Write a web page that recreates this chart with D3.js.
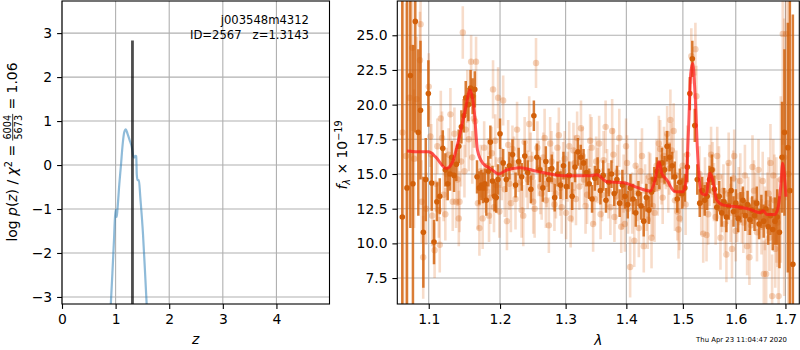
<!DOCTYPE html>
<html><head><meta charset="utf-8">
<script src="https://cdn.jsdelivr.net/npm/d3@7"></script>
<style>body{margin:0;background:#fff}svg{display:block}text{font-family:"DejaVu Sans",sans-serif;white-space:pre}</style>
</head><body><svg id="c" width="800" height="350"></svg>
<script>
// ---------- p(z) panel data ----------
const pzZ = [0.905,0.94,0.97,0.997,1.005,1.02,1.035,1.07,1.10,1.13,1.16,1.19,1.22,1.26,1.30,1.333,1.345,1.375,1.385,1.395,1.41,1.425,1.435,1.46,1.51,1.55,1.585];
const pzLogp = [-3.3,-2.46,-1.7,-1.02,-1.05,-1.18,-1.0,-0.42,0.0,0.45,0.74,0.81,0.72,0.57,0.42,0.19,0.17,0.21,0.2,-0.22,-0.34,-0.35,-0.34,-0.72,-1.55,-2.46,-3.3];
const zBest = 1.3143, zBestTop = 2.83;
const zTicks = [0,1,2,3,4];
const pTicks = [-3,-2,-1,0,1,2,3];
const objName = "j003548m4312";
const objInfo = "ID=2567   z=1.3143";

// ---------- spectrum panel data ----------
const darkWave = [1.0651,1.0712,1.0756,1.0790,1.0821,1.0861,1.0890,1.0928,1.0960,1.0995,1.1040,1.1071,1.1110,1.1149,1.1190,1.1225,1.1258,1.1290,1.1313,1.1345,1.1377,1.1410,1.1447,1.1480,1.1508,1.1545,1.1576,1.1605,1.1636,1.1668,1.1700,1.1730,1.1754,1.1780,1.1801,1.1830,1.1859,1.1890,1.1920,1.1945,1.1970,1.2000,
1.2046,1.2092,1.2138,1.2184,1.2230,1.2276,1.2322,1.2368,1.2414,1.2460,1.2506,1.2552,1.2598,1.2644,1.2690,1.2736,1.2782,1.2828,1.2874,1.2920,1.2966,1.3012,1.3058,1.3104,1.3150,1.3196,1.3242,1.3288,1.3334,1.3380,1.3426,1.3472,1.3518,1.3564,1.3610,1.3656,1.3702,1.3748,1.3794,1.3840,1.3886,1.3932,1.3978,1.4024,1.4070,1.4116,1.4162,1.4208,1.4254,1.4300,1.4346,1.4392,1.4438,1.4484,1.4530,1.4576,1.4622,1.4668,1.4714,1.4760,1.4806,1.4852,1.4898,1.4944,1.4990,1.5036,1.5082,1.5128,1.5174,1.5220,1.5266,1.5312,1.5358,1.5404,1.5450,1.5496,1.5542,1.5588,1.5634,1.5680,1.5726,1.5772,1.5818,1.5864,1.5910,1.5956,1.6002,1.6048,1.6094,1.6140,1.6186,1.6232,1.6278,1.6324,1.6370,1.6416,1.6462,1.6508,1.6554,1.6600,1.6646,1.6692,1.6738,1.6784,1.6830,1.6876,1.6930,1.6980,1.7050,1.7092,1.7155];
const darkFlux = [11.9,14.0,22.1,14.3,26.0,18.0,19.6,10.8,14.6,20.8,14.35,10.1,13.0,13.4,16.85,15.3,14.3,15.0,16.2,14.9,15.7,17.0,18.4,19.2,20.5,20.0,21.2,20.6,21.1,14.8,14.0,14.2,14.0,14.3,13.1,15.2,17.3,14.5,13.4,13.3,14.6,17.9,
15.8,14.6,15.6,16.4,14.2,15.9,14.8,16.3,15.1,13.9,
19.2,16.2,15.3,14.0,15.9,14.6,15.4,13.3,15.0,14.2,
15.6,14.1,14.9,13.4,15.5,16.6,16.2,15.8,15.1,14.3,
13.2,14.7,15.2,13.8,14.9,13.1,14.4,15.0,13.6,14.6,
12.9,14.2,13.4,12.8,14.0,13.2,12.2,13.6,12.7,11.6,
13.3,12.4,13.7,14.6,15.2,14.9,15.8,15.3,17.0,16.2,
15.6,14.8,13.2,14.4,13.6,14.0,15.5,20.8,23.3,18.5,
14.6,12.9,13.8,13.1,13.4,14.6,15.3,13.9,12.6,13.4,
12.2,13.0,11.9,12.7,13.8,12.3,12.9,11.8,12.6,13.1,
12.0,12.8,11.7,12.4,12.0,12.9,11.4,12.3,11.6,12.5,
11.2,12.0,11.0,11.6,11.9,10.8,16.2,18.0,16.9,13.8,
8.5];
const darkErr = [16,14,11,10,8,6,5,4,3,2.4,2,1.6,1.4,1.3,1.3,1.2,1.2,1.2,1.2,1.2,1.2,1.2,1.2,1.2,1.2,1.2,1.3,1.3,1.3,1.2,1.2,1.1,1.1,1.1,1.1,1.1,1.2,1.1,1.1,1.1,1.1,1.1,
1.0,0.9,1.0,1.1,0.9,1.0,1.0,1.1,0.9,1.0,
1.1,1.0,0.9,1.0,1.1,0.9,1.0,1.0,0.9,1.0,
1.0,0.9,1.0,1.0,1.1,1.0,0.9,1.0,1.0,1.1,
1.0,0.9,1.0,1.0,1.1,0.9,1.0,1.0,0.9,1.0,
1.0,1.1,0.9,1.0,1.0,1.1,1.0,0.9,1.0,1.1,
1.0,1.0,1.1,0.9,1.0,1.0,1.1,1.0,1.1,1.0,
1.0,1.1,1.0,1.0,1.1,1.0,1.1,1.2,1.3,1.2,
1.1,1.0,1.0,1.1,1.0,1.0,1.1,1.0,1.0,1.1,
1.0,1.0,1.1,1.0,1.0,1.1,1.0,1.0,1.1,1.0,
1.1,1.0,1.1,1.0,1.1,1.2,1.1,1.2,1.2,1.3,
1.3,1.4,1.5,1.7,2.0,2.6,4.0,6.0,9.0,14.0,
18.0];

const lightWave = [1.0653,1.0698,1.0744,1.0783,1.0805,1.0839,1.0883,1.0891,1.0906,1.0926,1.0965,1.1000,
1.1022,1.1046,1.1079,1.1116,1.1149,1.1163,1.1201,1.1243,1.1295,1.1327,1.1373,1.1411,1.1421,1.1443,1.1467,1.1509,1.1551,1.1584,1.1622,1.1654,1.1702,1.1720,1.1748,1.1790,1.1825,1.1860,1.1898,1.1912,1.1944,1.1972,
1.2008,1.2046,1.2102,1.2137,1.2183,1.2229,1.2275,1.2320,1.2366,1.2412,1.2458,1.2496,1.2539,1.2580,1.2626,1.2671,1.2702,1.2737,1.2778,1.2824,1.2870,1.2915,1.2961,1.3007,1.3057,1.3106,1.3147,1.3184,1.3221,1.3271,1.3320,1.3370,1.3419,1.3469,1.3518,1.3567,1.3617,1.3650,1.3699,1.3760,1.3798,1.3848,1.3913,1.3954,1.3995,1.4030,1.4065,1.4136,1.4189,1.4242,1.4301,1.4348,1.4393,1.4437,1.4490,1.4526,1.4566,1.4614,1.4658,1.4715,1.4756,1.4773,1.4832,1.4880,1.4920,1.4938,1.4968,1.5023,1.5080,1.5155,1.5231,1.5250,1.5307,1.5377,1.5439,1.5496,1.5553,1.5642,1.5704,1.5761,1.5818,1.5862,1.5926,1.5970,1.6028,1.6089,1.6149,1.6223,1.6269,1.6330,1.6390,1.6450,1.6511,
1.6557,1.6605,1.6652,1.6692,1.6726,1.6773,1.6813,1.6859,1.6904,1.6944,1.6974,1.7014,1.7060];
const lightFlux = [18.0,16.3,20.5,24.1,16.1,20.4,23.2,25.8,13.0,9.0,12.5,21.3,
17.7,12.0,9.5,17.0,9.9,19.0,13.5,15.0,19.3,13.0,13.0,11.8,13.0,15.9,25.2,18.2,17.5,23.1,19.0,23.1,11.1,15.2,11.8,14.0,15.6,13.3,21.1,12.6,14.2,20.5,
16.0,20.3,11.6,14.3,16.8,13.2,15.6,12.4,17.3,14.6,16.1,13.0,23.0,15.4,13.6,17.6,14.3,11.3,15.9,12.8,16.9,14.0,15.2,12.2,17.0,13.7,15.8,17.6,14.1,16.3,12.7,15.0,16.9,13.2,14.9,12.1,16.0,18.4,13.8,18.1,11.9,15.1,11.2,14.3,17.0,12.5,8.3,10.2,13.6,15.2,9.8,12.9,14.8,10.4,12.2,15.6,17.2,14.6,16.3,17.9,15.4,18.9,18.1,14.9,11.0,11.8,13.5,14.6,16.4,23.5,24.0,20.6,15.0,10.7,10.6,14.9,15.3,16.3,10.4,13.8,9.2,15.8,9.6,16.3,12.4,14.5,11.5,9.8,9.0,15.5,13.0,15.3,11.2,
7.8,7.8,13.6,15.8,6.2,13.1,12.4,6.2,14.6,25.1,16.2,25.1,15.0];
const lightErr = [14,11,8,6,5,4.5,3.5,3.5,3,3,2.6,2.4,
2.2,2.2,2.0,2.0,2.0,2.0,1.9,1.9,1.9,2.1,1.9,2.0,2.2,1.8,1.9,2.0,2.3,1.9,2.1,1.8,2.0,1.9,2.2,1.8,2.0,1.9,2.1,1.8,2.0,2.2,
2.0,1.8,2.1,1.9,1.7,2.2,1.9,2.0,1.8,2.1,
1.9,2.3,1.8,2.0,1.9,2.1,1.7,2.0,2.2,1.9,
1.8,2.0,2.1,1.9,1.8,2.2,2.0,1.9,1.7,2.1,
2.0,1.8,2.2,1.9,2.0,1.8,2.1,1.9,2.0,2.3,
1.8,2.0,1.9,2.1,2.0,1.8,2.2,1.9,2.0,2.1,
1.9,2.0,1.8,2.2,2.1,1.9,2.0,1.8,2.1,2.0,
1.9,2.2,2.0,1.8,2.1,2.3,2.0,1.9,2.1,2.0,
1.9,2.2,2.0,2.1,1.9,2.2,2.0,2.1,2.3,1.9,
2.0,2.2,2.1,1.9,2.3,2.0,2.2,2.1,2.0,2.3,
2.1,2.2,2.0,
2.4,2.5,2.6,2.8,3.0,3.3,3.8,4.5,6,8,10,12,14];

// second, interleaved set of faint points
const lightWaveB = [1.1035,1.1095,1.1135,1.1180,1.1225,1.1270,1.1350,1.1395,1.1490,1.1530,1.1600,1.1640,1.1680,1.1770,1.1840,1.1880,1.1930,1.1990,
1.2025,1.2070,1.2120,1.2160,1.2205,1.2252,1.2298,1.2345,1.2390,1.2435,1.2480,1.2518,1.2560,1.2605,1.2650,1.2690,1.2757,1.2800,1.2847,1.2893,1.2938,1.2984,1.3032,1.3080,1.3125,1.3165,1.3246,1.3295,1.3345,1.3395,1.3444,1.3494,1.3543,1.3592,1.3675,1.3730,1.3780,1.3823,1.3880,1.3935,1.3975,1.4012,1.4100,1.4160,1.4215,1.4270,1.4325,1.4370,1.4415,1.4460,1.4545,1.4590,1.4635,1.4690,1.4735,1.4800,1.4855,1.4900,1.4995,1.5050,1.5340,1.5410,1.5470,1.5525,1.5580,1.5612,1.5675,1.5735,1.5790,1.5840,1.5898,1.5950,1.6000,1.6058,1.6120,1.6180,1.6245,1.6300,1.6360,1.6420,1.6480,1.6535,1.6580,1.6630,1.6670,1.6750,1.6790,1.6835];
const lightFluxB = [16.4,14.3,12.4,17.6,12.1,16.4,17.9,14.6,15.2,20.6,16.2,18.8,12.9,16.9,12.0,16.5,17.4,12.3,
15.0,13.9,17.1,12.9,15.8,18.2,14.4,12.0,15.2,18.6,14.8,12.5,16.9,14.1,16.2,13.1,17.2,14.5,13.6,17.8,12.6,16.1,14.8,11.8,16.7,13.2,18.3,14.6,13.5,17.4,11.4,15.9,17.2,13.5,14.7,12.6,16.4,13.4,17.6,12.9,11.4,15.8,12.9,15.6,11.1,16.3,13.8,11.7,14.5,12.7,14.0,16.8,13.3,15.9,14.3,16.7,13.1,12.3,15.6,12.8,12.7,14.2,12.1,16.4,13.7,11.9,14.8,12.9,11.4,13.6,12.2,14.7,10.9,13.4,12.0,14.9,12.7,11.3,13.8,10.8,12.6,14.5,11.8,12.9,10.4,14.9,9.6,11.5];
const lightErrB = [2.2,2.0,2.0,1.9,1.9,1.9,1.9,1.9,1.9,1.9,1.9,1.9,1.9,1.9,1.9,1.9,1.9,1.9,
1.9,2.0,1.8,2.1,1.9,2.0,1.8,2.2,1.9,2.0,1.8,2.1,1.9,2.0,1.8,2.0,1.9,2.1,1.8,2.0,1.9,2.0,1.8,2.1,2.0,1.9,2.0,1.8,2.1,1.9,2.0,1.8,2.0,1.9,2.1,2.0,1.9,2.0,2.1,1.9,2.0,2.0,2.2,1.9,2.1,2.0,1.9,2.1,2.0,2.2,2.0,2.1,1.9,2.0,2.1,2.0,2.2,2.1,2.0,2.2,2.1,2.0,2.2,2.0,2.1,2.0,2.2,2.1,2.0,2.2,2.1,2.0,2.2,2.1,2.0,2.2,2.1,2.0,2.2,2.1,2.2,2.1,2.3,2.2,2.4,2.6,2.8,3.2];

const modelWave = [1.0712,1.085,1.1,1.1089,1.1238,1.1316,1.1408,1.1500,1.1570,1.1627,1.1675,1.1752,1.1859,1.1982,1.2099,1.2297,1.2550,1.2965,1.3394,1.3505,1.3671,1.3951,1.4182,1.4412,1.4500,1.4571,1.4619,1.4708,1.4858,1.5000,1.5058,1.5101,1.5145,1.5182,1.5224,1.5275,1.5349,1.5430,1.5505,1.5556,1.5632,1.5759,1.6018,1.6280,1.6480,1.6546,1.6615,1.6784,1.6852,1.6902,1.6943,1.6976,1.7011];
const modelFlux = [16.66,16.6,16.6,16.25,15.4,15.77,17.45,19.6,21.05,19.6,16.7,15.77,15.4,15.0,15.29,15.45,15.2,14.88,14.88,14.95,14.44,14.37,14.04,13.77,14.57,15.89,15.05,14.57,13.72,13.72,14.44,17.93,22.26,22.98,20.82,16.25,13.6,13.49,15.05,14.57,13.13,12.76,12.64,12.45,12.21,12.35,12.09,12.09,12.64,14.08,15.77,15.05,13.36];
const wTicks = [1.1,1.2,1.3,1.4,1.5,1.6,1.7];
const fTicks = [7.5,10.0,12.5,15.0,17.5,20.0,22.5,25.0];
const timeStamp = "Thu Apr 23 11:04:47 2020";

// ---------- drawing ----------
const svg = d3.select('#c');
const L = {x0:62, x1:329.5, y0:1, y1:304};
const R = {x0:397.3, x1:799.3, y0:1, y1:304};
const xz = d3.scaleLinear().domain([0, 4.99]).range([L.x0, L.x1]);
const yp = d3.scaleLinear().domain([-3.16, 3.73]).range([L.y1, L.y0]);
const xw = d3.scaleLog().domain([1.0586, 1.729]).range([R.x0, R.x1]);
const yf = d3.scaleLinear().domain([5.63, 27.47]).range([R.y1, R.y0]);
const FS = 13.9, GRID = '#b0b0b0';

const defs = svg.append('defs');
[['clipL', L], ['clipR', R]].forEach(([id, b]) => {
  defs.append('clipPath').attr('id', id).append('rect')
    .attr('x', b.x0).attr('y', b.y0).attr('width', b.x1 - b.x0).attr('height', b.y1 - b.y0);
});

function panel(b, xs, ys, xt, yt, xfmt, yfmt) {
  const g = svg.append('g');
  g.selectAll('.gx').data(xt).join('line')
    .attr('x1', d => xs(d)).attr('x2', d => xs(d)).attr('y1', b.y0).attr('y2', b.y1)
    .attr('stroke', GRID).attr('stroke-width', 1.1);
  g.selectAll('.gy').data(yt).join('line')
    .attr('y1', d => ys(d)).attr('y2', d => ys(d)).attr('x1', b.x0).attr('x2', b.x1)
    .attr('stroke', GRID).attr('stroke-width', 1.1);
  const ax = svg.append('g').attr('transform', `translate(0,${b.y1})`)
    .call(d3.axisBottom(xs).tickValues(xt).tickFormat(xfmt).tickSize(4.9).tickPadding(5.5).tickSizeOuter(0));
  const ay = svg.append('g').attr('transform', `translate(${b.x0},0)`)
    .call(d3.axisLeft(ys).tickValues(yt).tickFormat(yfmt).tickSize(4.9).tickPadding(4.9).tickSizeOuter(0));
  [ax, ay].forEach(a => {
    a.select('.domain').remove();
    a.selectAll('line').attr('stroke', '#000').attr('stroke-width', 1.1);
    a.selectAll('text').attr('font-size', FS).attr('font-family', '"DejaVu Sans", sans-serif').attr('fill', '#000');
  });
  return g;
}
panel(L, xz, yp, zTicks, pTicks, d3.format('d'), d3.format('d'));
panel(R, xw, yf, wTicks, fTicks, d3.format('.1f'), d3.format('.1f'));

// p(z) curve
const gL = svg.append('g').attr('clip-path', 'url(#clipL)');
const pz = d3.zip(pzZ, pzLogp);
gL.append('path').datum(pz)
  .attr('d', d3.line().x(d => xz(d[0])).y(d => yp(d[1])).curve(d3.curveMonotoneX))
  .attr('fill', 'none').attr('stroke', '#1f77b4').attr('stroke-opacity', 0.5).attr('stroke-width', 2.2);
gL.append('line').attr('x1', xz(zBest)).attr('x2', xz(zBest)).attr('y1', yp(-4)).attr('y2', yp(zBestTop))
  .attr('stroke', '#000').attr('stroke-opacity', 0.7).attr('stroke-width', 2.8);

// spectrum
const gR = svg.append('g').attr('clip-path', 'url(#clipR)');
const LC = '#d9600f', DC = '#d2600a';
const light = d3.zip(lightWave, lightFlux, lightErr).concat(d3.zip(lightWaveB, lightFluxB, lightErrB));
const dark = d3.zip(darkWave, darkFlux, darkErr);
const lg = gR.append('g');
lg.selectAll('line').data(light).join('line')
  .attr('x1', d => xw(d[0])).attr('x2', d => xw(d[0]))
  .attr('y1', d => yf(d[1] - d[2])).attr('y2', d => yf(d[1] + d[2]))
  .attr('stroke', LC).attr('stroke-opacity', 0.22).attr('stroke-width', 2.6);
lg.selectAll('circle').data(light).join('circle')
  .attr('cx', d => xw(d[0])).attr('cy', d => yf(d[1])).attr('r', 3.2)
  .attr('fill', LC).attr('fill-opacity', 0.28);
const dg = gR.append('g');
dg.selectAll('line').data(dark).join('line')
  .attr('x1', d => xw(d[0])).attr('x2', d => xw(d[0]))
  .attr('y1', d => yf(d[1] - d[2])).attr('y2', d => yf(d[1] + d[2]))
  .attr('stroke', DC).attr('stroke-opacity', 0.82).attr('stroke-width', 2.5);
dg.selectAll('circle').data(dark).join('circle')
  .attr('cx', d => xw(d[0])).attr('cy', d => yf(d[1])).attr('r', 2.8)
  .attr('fill', DC);
gR.append('path').datum(d3.zip(modelWave, modelFlux))
  .attr('d', d3.line().x(d => xw(d[0])).y(d => yf(d[1])).curve(d3.curveMonotoneX))
  .attr('fill', 'none').attr('stroke', '#ff1a1a').attr('stroke-opacity', 0.72).attr('stroke-width', 3);

// frames
[L, R].forEach(b => svg.append('rect').attr('x', b.x0).attr('y', b.y0)
  .attr('width', b.x1 - b.x0).attr('height', b.y1 - b.y0)
  .attr('fill', 'none').attr('stroke', '#000').attr('stroke-width', 1.1));

// annotation
svg.append('text').attr('x', 309).attr('y', 24).attr('text-anchor', 'end').attr('font-size', 11.6).text(objName);
svg.append('text').attr('x', 309).attr('y', 38.5).attr('text-anchor', 'end').attr('font-size', 11.6).text(objInfo);

// x labels
svg.append('text').attr('x', (L.x0 + L.x1) / 2).attr('y', 344).attr('text-anchor', 'middle')
  .attr('font-size', FS).attr('font-style', 'italic').text('z');
svg.append('text').attr('x', (R.x0 + R.x1) / 2).attr('y', 345).attr('text-anchor', 'middle')
  .attr('font-size', FS).attr('font-style', 'italic').text('λ');

// left y label with fraction
(function () {
  const outer = svg.append('g').attr('transform', 'translate(17,152) rotate(-90)');
  const g = outer.append('g');
  const t1 = g.append('text').attr('font-size', FS);
  t1.append('tspan').text('log ');
  t1.append('tspan').attr('font-style', 'italic').text('p');
  t1.append('tspan').text('(');
  t1.append('tspan').attr('font-style', 'italic').text('z');
  t1.append('tspan').text(') / ');
  t1.append('tspan').attr('font-style', 'italic').text('χ');
  t1.append('tspan').attr('font-size', 9.7).attr('dy', -5.5).text('2');
  t1.append('tspan').attr('dy', 5.5).text(' = ');
  const w1 = t1.node().getComputedTextLength();
  const num = g.append('text').attr('font-size', 9.7).attr('y', -6.3).text('6004');
  const den = g.append('text').attr('font-size', 9.7).attr('y', 4.6).text('5673');
  const wn = num.node().getComputedTextLength(), wd = den.node().getComputedTextLength();
  const fw = Math.max(wn, wd) + 2;
  num.attr('x', w1 + (fw - wn) / 2);
  den.attr('x', w1 + (fw - wd) / 2);
  g.append('line').attr('x1', w1).attr('x2', w1 + fw).attr('y1', -4.3).attr('y2', -4.3)
    .attr('stroke', '#000').attr('stroke-width', 0.8);
  const t3 = g.append('text').attr('font-size', FS).attr('x', w1 + fw).text(' = 1.06');
  const tot = w1 + fw + t3.node().getComputedTextLength();
  g.attr('transform', `translate(${-tot / 2},0)`);
})();

// right y label
(function () {
  const outer = svg.append('g').attr('transform', 'translate(347,155) rotate(-90)');
  const t = outer.append('text').attr('font-size', FS).attr('text-anchor', 'middle');
  t.append('tspan').attr('font-style', 'italic').text('f');
  t.append('tspan').attr('font-style', 'italic').attr('font-size', 9.7).attr('dy', 3).text('λ');
  t.append('tspan').attr('dy', -3).text(' × 10');
  t.append('tspan').attr('font-size', 9.7).attr('dy', -5.5).text('−19');
})();

svg.append('text').attr('x', 787).attr('y', 342).attr('text-anchor', 'end').attr('font-size', 6.9).text(timeStamp);
</script></body></html>
